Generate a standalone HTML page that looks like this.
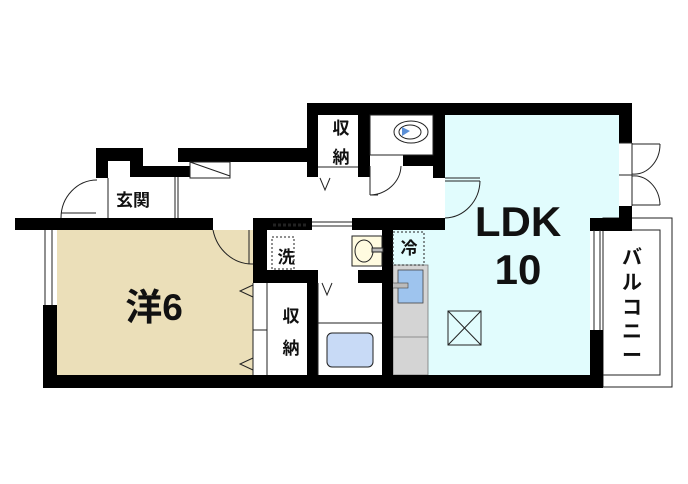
<!DOCTYPE html>
<html><head><meta charset="utf-8"><style>
body{margin:0;background:#fff;width:688px;height:484px;overflow:hidden}
svg{display:block}
text{font-family:"Liberation Sans","Noto Sans CJK JP",sans-serif;font-weight:bold;fill:#111}
</style></head><body>
<svg width="688" height="484" viewBox="0 0 688 484" xmlns="http://www.w3.org/2000/svg">
<rect x="57" y="230" width="196" height="145" fill="#ebdfb9"/>
<rect x="445" y="115" width="174" height="115" fill="#e1fcfd"/>
<rect x="393" y="230" width="197" height="145" fill="#e1fcfd"/>
<rect x="393" y="265" width="35" height="110" fill="#d4d4d4" stroke="#777" stroke-width="0.8"/>
<line x1="393" y1="337" x2="428" y2="337" stroke="#777" stroke-width="0.8"/>
<rect x="398" y="270" width="25" height="33" fill="#9ec4ee" stroke="#444" stroke-width="0.8"/>
<rect x="390" y="283" width="18" height="5" fill="#bbb" stroke="#444" stroke-width="0.6"/>
<rect x="603" y="218" width="69" height="169" fill="#fff" stroke="#222" stroke-width="1"/>
<rect x="603" y="230" width="57" height="145" fill="none" stroke="#222" stroke-width="1"/>
<g fill="#000">
<rect x="307" y="103" width="325" height="12"/>
<rect x="619" y="103" width="13" height="40"/>
<rect x="619" y="206" width="13" height="25"/>
<rect x="590" y="218" width="42" height="13"/>
<rect x="590" y="218" width="13" height="12"/>
<rect x="590" y="330" width="13" height="58"/>
<rect x="45" y="375" width="558" height="13"/>
<rect x="43" y="305" width="14" height="83"/>
<rect x="15" y="218" width="198" height="12"/>
<rect x="253" y="218" width="59" height="12"/>
<rect x="352" y="218" width="93" height="12"/>
<rect x="433" y="103" width="12" height="75"/>
<rect x="307" y="103" width="11" height="74"/>
<rect x="358" y="103" width="12" height="74"/>
<rect x="403" y="155" width="42" height="11"/>
<rect x="96" y="148" width="47" height="13"/>
<rect x="96" y="148" width="12" height="30"/>
<rect x="130" y="148" width="13" height="29"/>
<rect x="130" y="166" width="60" height="11"/>
<rect x="178" y="148" width="129" height="14"/>
<rect x="253" y="218" width="14" height="64"/>
<rect x="253" y="270" width="65" height="13"/>
<rect x="307" y="270" width="11" height="105"/>
<rect x="358" y="270" width="35" height="13"/>
<rect x="382" y="218" width="11" height="157"/>
</g>
<g fill="none" stroke="#222" stroke-width="1">
<line x1="45" y1="230" x2="45" y2="305"/><line x1="52" y1="230" x2="52" y2="305"/>
<line x1="594" y1="230" x2="594" y2="330"/><line x1="600" y1="230" x2="600" y2="330"/>
<line x1="312" y1="222" x2="352" y2="222"/><line x1="312" y1="226" x2="352" y2="226"/>
<line x1="273" y1="225" x2="308" y2="225" stroke-dasharray="3,2" stroke-width="3"/>
<path d="M97 180 A36 38 0 0 0 61 218"/><line x1="61" y1="213" x2="96" y2="213"/>
<line x1="108" y1="178" x2="108" y2="218"/><line x1="178" y1="177" x2="178" y2="218"/><line x1="175" y1="177" x2="175" y2="218"/>
<rect x="190" y="162" width="40" height="16"/><line x1="190" y1="162" x2="230" y2="176"/>
<path d="M213 230 A40 43 0 0 0 253 264"/><line x1="249" y1="230" x2="249" y2="264"/>
<line x1="267" y1="283" x2="267" y2="375"/><line x1="253" y1="283" x2="253" y2="375"/><line x1="253" y1="330" x2="267" y2="330"/>
<path d="M253 285 L240 291 L253 297 M253 358 L240 364 L253 370"/>
<line x1="318" y1="167" x2="358" y2="167"/>
<path d="M320 178 L325 190 L330 178"/>
<rect x="370" y="115" width="63" height="40" fill="#fff"/>
<ellipse cx="411" cy="132" rx="17" ry="11"/><ellipse cx="410" cy="132" rx="11" ry="7"/>
<path d="M402 127 L410 131 L402 136 Z" fill="#5b8fd6" stroke="none"/>
<line x1="370" y1="155" x2="403" y2="155"/>
<line x1="370" y1="166" x2="370" y2="195"/><line x1="370" y1="195" x2="378" y2="195"/>
<path d="M370 195 A32 30 0 0 0 401 166"/>
<line x1="445" y1="178" x2="480" y2="178"/><line x1="445" y1="181" x2="480" y2="181"/>
<path d="M480 181 A36 38 0 0 1 445 218"/>
<line x1="632" y1="143" x2="632" y2="206"/><line x1="619" y1="143" x2="632" y2="143"/><line x1="619" y1="175" x2="632" y2="175"/>
<line x1="632" y1="144" x2="660" y2="144"/><path d="M660 144 A26 30 0 0 1 632 174"/>
<line x1="632" y1="205" x2="660" y2="205"/><path d="M660 205 A26 30 0 0 0 632 176"/>
<rect x="272" y="237" width="22" height="32" stroke-dasharray="2,2"/>
<rect x="352" y="236" width="30" height="30" fill="#fffbe0"/>
<ellipse cx="364" cy="251" rx="9" ry="11"/>
<rect x="372" y="248" width="11" height="4" fill="#bbb"/>
<rect x="393" y="232" width="31" height="33" stroke-dasharray="2,2"/>
<line x1="318" y1="283" x2="318" y2="375"/>
<line x1="318" y1="323" x2="382" y2="323"/>
<path d="M322 283 L327 295 L332 283"/>
<rect x="327" y="333" width="46" height="34" rx="5" fill="#c8daf6"/>
<rect x="448" y="311" width="33" height="34"/><line x1="448" y1="311" x2="481" y2="345"/><line x1="481" y1="311" x2="448" y2="345"/>
</g>
<text x="341" y="134" font-size="17" text-anchor="middle">収</text>
<text x="341" y="163" font-size="17" text-anchor="middle">納</text>
<text x="133" y="206" font-size="17" text-anchor="middle">玄関</text>
<text x="154" y="320" font-size="37" text-anchor="middle">洋6</text>
<text x="291" y="322" font-size="17" text-anchor="middle">収</text>
<text x="291" y="354" font-size="17" text-anchor="middle">納</text>
<text x="286" y="263" font-size="17" text-anchor="middle">洗</text>
<text x="409" y="254" font-size="17" text-anchor="middle">冷</text>
<text x="518" y="236" font-size="42" text-anchor="middle">LDK</text>
<text x="518" y="284" font-size="42" text-anchor="middle">10</text>
<text x="632" y="264" font-size="20" text-anchor="middle">バ</text>
<text x="632" y="289" font-size="20" text-anchor="middle">ル</text>
<text x="632" y="314" font-size="20" text-anchor="middle">コ</text>
<text x="632" y="338" font-size="20" text-anchor="middle">ニ</text>
<text x="632" y="362" font-size="20" text-anchor="middle">ー</text>
</svg>
</body></html>
